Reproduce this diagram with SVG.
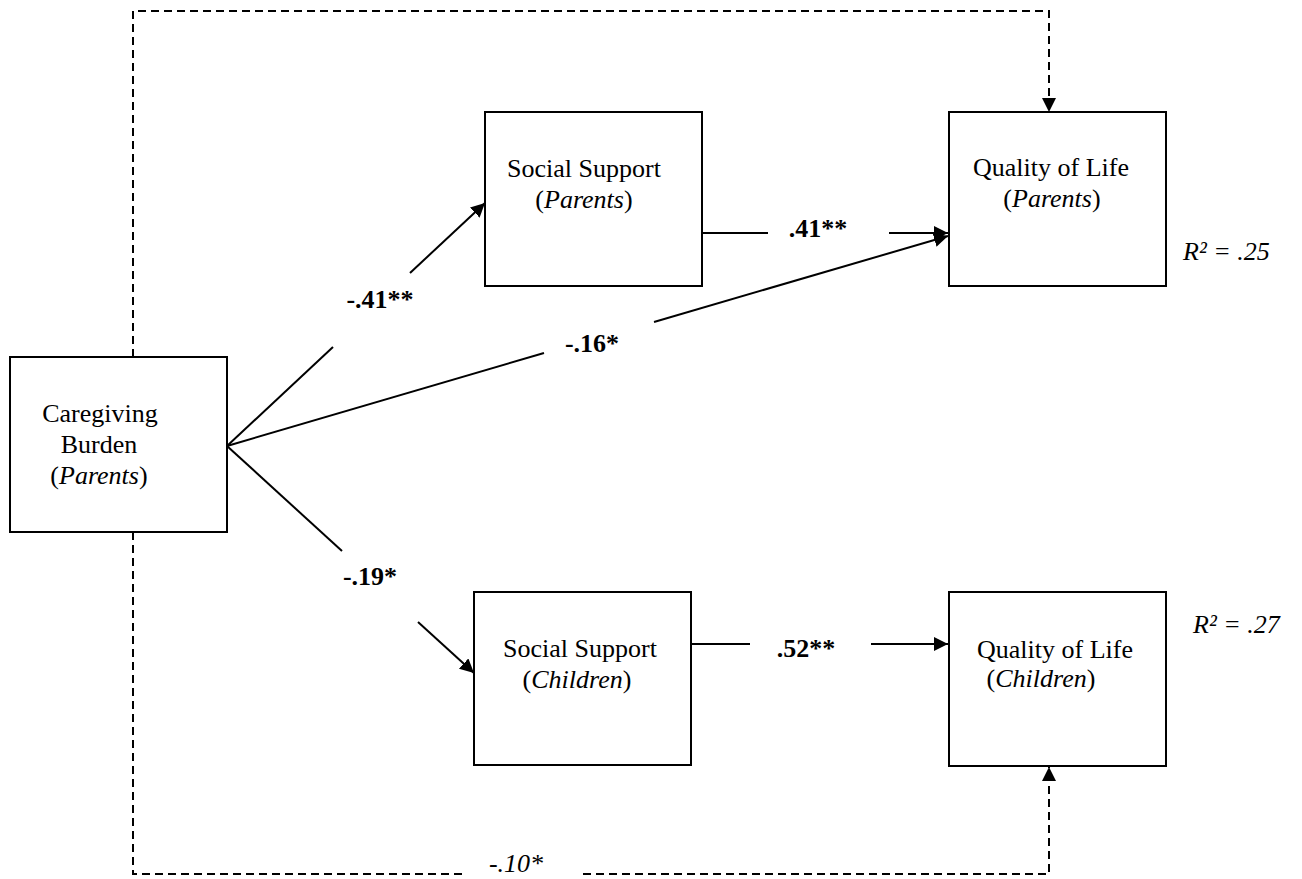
<svg xmlns="http://www.w3.org/2000/svg" width="1302" height="879" viewBox="0 0 1302 879">
<style>
.box{fill:#fff;stroke:#000;stroke-width:2}
.t{font-family:"Liberation Serif","Times New Roman",serif;font-size:26px;fill:#000}
.c{text-anchor:middle}
.i{font-style:italic}
.b{font-weight:bold}
.ln{fill:none;stroke:#000;stroke-width:2}
.dash{fill:none;stroke:#000;stroke-width:2;stroke-dasharray:8 5}
</style>
<defs>
<marker id="ah" markerUnits="userSpaceOnUse" markerWidth="16" markerHeight="16" refX="14" refY="7" orient="auto">
<path d="M0,0 L14,7 L0,14 z" fill="#000" stroke="none"/>
</marker>
</defs>
<rect width="1302" height="879" fill="#fff"/>
<g id="connectors">
<path class="dash" d="M133,357 V11 H1049 V112" marker-end="url(#ah)"/>
<path class="dash" d="M133,532 V874 H463"/>
<path class="dash" d="M583,874 H1049 V767" marker-end="url(#ah)"/>
<path class="ln" d="M227,446 L333,347"/>
<path class="ln" d="M410,273 L485,203" marker-end="url(#ah)"/>
<path class="ln" d="M227,446 L544,353"/>
<path class="ln" d="M654,322 L948,236" marker-end="url(#ah)"/>
<path class="ln" d="M227,446 L342,551"/>
<path class="ln" d="M418,622 L474,673" marker-end="url(#ah)"/>
<path class="ln" d="M702,233 L768,233"/>
<path class="ln" d="M889,233 L948,233" marker-end="url(#ah)"/>
<path class="ln" d="M691,644 L750,644"/>
<path class="ln" d="M871,644 L948,644" marker-end="url(#ah)"/>
<text class="t b c" x="380" y="308">-.41**</text>
<text class="t b c" x="592" y="352">-.16*</text>
<text class="t b c" x="818" y="237">.41**</text>
<text class="t b c" x="370" y="585">-.19*</text>
<text class="t b c" x="806" y="657">.52**</text>
<text class="t i c" x="516" y="872">-.10*</text>
</g>
<g id="caregiving-burden">
<rect class="box" x="10" y="357" width="217" height="175"/>
<text class="t c" x="100" y="422">Caregiving</text>
<text class="t c" x="99" y="453">Burden</text>
<text class="t c" x="99" y="484">(<tspan class="i">Parents</tspan>)</text>
</g>
<g id="social-support-parents">
<rect class="box" x="485" y="112" width="217" height="174"/>
<text class="t c" x="584" y="177">Social Support</text>
<text class="t c" x="584" y="208">(<tspan class="i">Parents</tspan>)</text>
</g>
<g id="quality-of-life-parents">
<rect class="box" x="949" y="112" width="217" height="174"/>
<text class="t c" x="1051" y="176">Quality of Life</text>
<text class="t c" x="1052" y="207">(<tspan class="i">Parents</tspan>)</text>
<text class="t i" x="1183" y="260">R² = .25</text>
</g>
<g id="social-support-children">
<rect class="box" x="474" y="592" width="217" height="173"/>
<text class="t c" x="580" y="657">Social Support</text>
<text class="t c" x="577" y="688">(<tspan class="i">Children</tspan>)</text>
</g>
<g id="quality-of-life-children">
<rect class="box" x="949" y="592" width="217" height="174"/>
<text class="t c" x="1055" y="658">Quality of Life</text>
<text class="t c" x="1041" y="687">(<tspan class="i">Children</tspan>)</text>
<text class="t i" x="1193" y="633">R² = .27</text>
</g>
</svg>
